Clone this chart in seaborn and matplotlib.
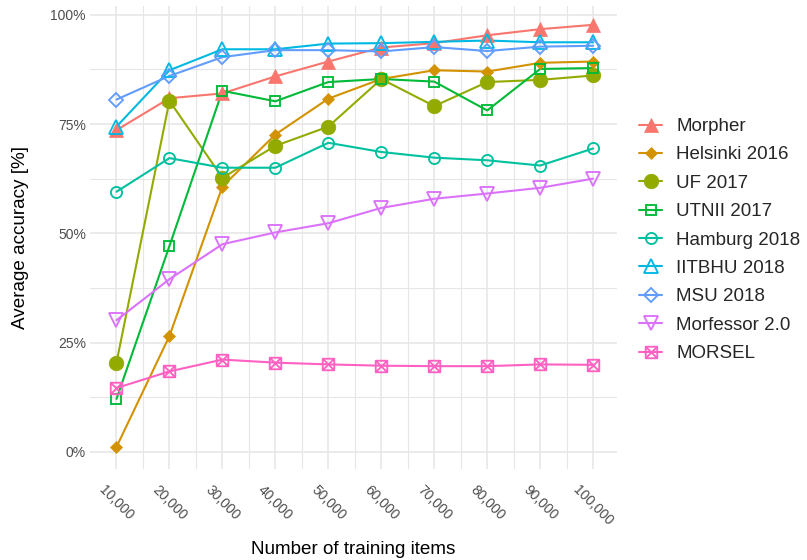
import numpy as np
import pandas as pd
import matplotlib
matplotlib.use("Agg")
import matplotlib.pyplot as plt
from matplotlib.path import Path
from matplotlib.lines import Line2D
import seaborn as sns

# Training-set sizes on the x axis
training_items = [10000, 20000, 30000, 40000, 50000, 60000, 70000, 80000, 90000, 100000]

systems = ["Morpher", "Helsinki 2016", "UF 2017", "UTNII 2017", "Hamburg 2018",
           "IITBHU 2018", "MSU 2018", "Morfessor 2.0", "MORSEL"]

# Average accuracy (%) per system
morpher = [73.6, 80.9, 82.0, 85.9, 89.3, 92.5, 93.5, 95.3, 96.7, 97.7]
helsinki_2016 = [1.1, 26.5, 60.7, 72.6, 80.8, 85.3, 87.3, 87.0, 89.0, 89.3]
uf_2017 = [20.4, 80.3, 62.7, 70.0, 74.4, 85.3, 79.1, 84.6, 85.1, 86.1]
utnii_2017 = [12.1, 47.1, 82.6, 80.2, 84.6, 85.3, 84.7, 78.1, 87.6, 87.8]
hamburg_2018 = [59.5, 67.2, 65.0, 65.0, 70.7, 68.6, 67.3, 66.7, 65.5, 69.4]
iitbhu_2018 = [74.4, 87.3, 92.1, 92.1, 93.4, 93.5, 93.8, 94.1, 93.7, 93.7]
msu_2018 = [80.6, 86.0, 90.3, 91.9, 91.9, 91.6, 92.6, 91.7, 92.7, 92.9]
morfessor_2 = [30.1, 39.5, 47.5, 50.2, 52.3, 55.8, 57.9, 59.1, 60.4, 62.5]
morsel = [14.6, 18.4, 21.1, 20.4, 20.0, 19.7, 19.6, 19.6, 20.0, 19.9]

y_ticks = [0, 25, 50, 75, 100]

series = [morpher, helsinki_2016, uf_2017, utnii_2017, hamburg_2018,
          iitbhu_2018, msu_2018, morfessor_2, morsel]

df = pd.DataFrame({
    "items": np.tile(training_items, len(systems)),
    "accuracy": np.concatenate(series),
    "system": np.repeat(systems, len(training_items)),
})

palette = ["#F8766D", "#D39200", "#93AA00", "#00BA38", "#00C19F",
           "#00B9E3", "#619CFF", "#DB72FB", "#FF61C3"]

# square with a cross inside
sq_cross = Path(
    [(-0.5, -0.5), (0.5, -0.5), (0.5, 0.5), (-0.5, 0.5), (-0.5, -0.5),
     (-0.5, -0.5), (0.5, 0.5), (-0.5, 0.5), (0.5, -0.5)],
    [Path.MOVETO, Path.LINETO, Path.LINETO, Path.LINETO, Path.CLOSEPOLY,
     Path.MOVETO, Path.LINETO, Path.MOVETO, Path.LINETO])

# marker, size, filled
marker_specs = [
    ("^", 10.0, True),
    ("D", 5.8, True),
    ("o", 10.5, True),
    ("s", 7.8, False),
    ("o", 8.0, False),
    ("^", 9.8, False),
    ("D", 7.1, False),
    ("v", 10.5, False),
    (sq_cross, 8.3, False),
]
MEW = 1.35
LW = 1.5

sns.set_theme(style="white")
plt.rcParams["font.family"] = ["Liberation Sans", "DejaVu Sans"]

fig = plt.figure(figsize=(8.07, 5.60), dpi=100)
ax = fig.add_axes([90 / 807, 1 - 469.3 / 560, (617 - 90) / 807, (469.3 - 6) / 560])

# lines first, then points on top
sns.lineplot(data=df, x="items", y="accuracy", hue="system", hue_order=systems,
             palette=palette, linewidth=LW, errorbar=None, legend=False, ax=ax)

handles = []
for name, color, (mk, ms, filled) in zip(systems, palette, marker_specs):
    sub = df[df["system"] == name]
    style = dict(marker=mk, markersize=ms, markeredgewidth=MEW,
                 markeredgecolor=color,
                 markerfacecolor=color if filled else "none")
    if filled:
        style["markeredgewidth"] = 0.5
    sns.lineplot(data=sub, x="items", y="accuracy", color=color, linestyle="none",
                 errorbar=None, legend=False, ax=ax, **style)
    handles.append(Line2D([], [], color=color, linewidth=LW, **style))

ax.set_xlim(5000, 104500)
ax.set_ylim(-4.0, 102.0)

ax.set_xticks(training_items)
ax.set_xticklabels([f"{v:,}" for v in training_items], rotation=-45, ha="center", va="top")
ax.set_xticks([v + 5000 for v in training_items[:-1]], minor=True)
ax.set_yticks(y_ticks)
ax.set_yticklabels([f"{v}%" for v in y_ticks])
ax.set_yticks([12.5, 37.5, 62.5, 87.5], minor=True)

ax.grid(which="major", color="#E6E6E6", linewidth=1.1)
ax.grid(which="minor", color="#E6E6E6", linewidth=0.8)
ax.set_axisbelow(True)
for s in ax.spines.values():
    s.set_visible(False)
ax.tick_params(which="both", length=0, labelsize=10, labelcolor="#4D4D4D")
ax.tick_params(axis="x", pad=10)
ax.tick_params(axis="y", pad=3)

ax.set_xlabel("Number of training items", fontsize=13.6, color="black", labelpad=9)
ax.set_ylabel("Average accuracy [%]", fontsize=13.6, color="black", labelpad=15)

fig.legend(handles=handles, labels=systems, loc="center left",
           bbox_to_anchor=(639 / 807, 1 - 240 / 560), frameon=False,
           fontsize=13.5, handlelength=1.25, handletextpad=0.75,
           labelspacing=0.6, borderpad=0, borderaxespad=0)

fig.savefig("out.png", dpi=100)
